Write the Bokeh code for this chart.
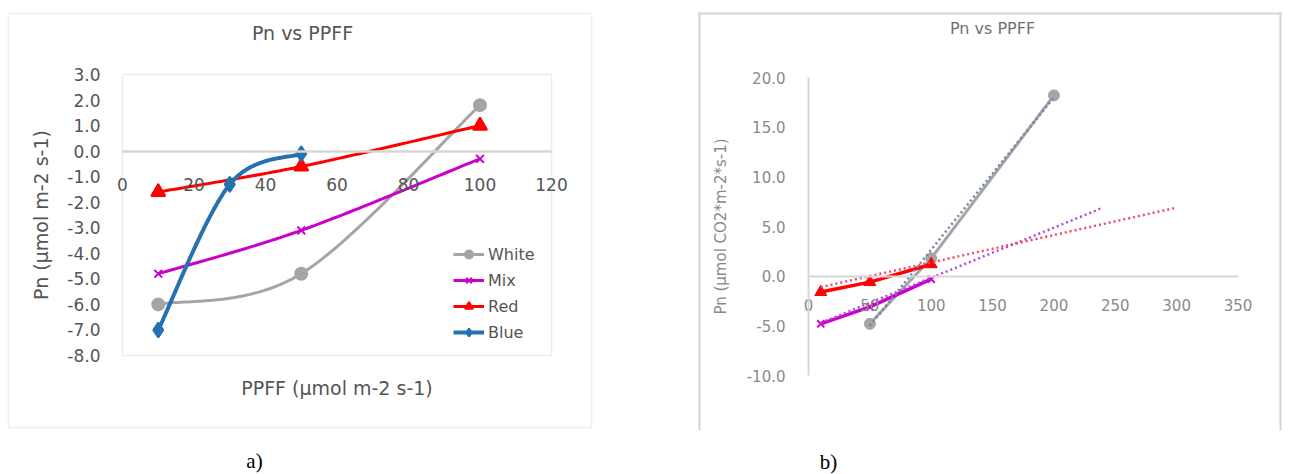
import numpy as np
from bokeh.plotting import figure
from bokeh.layouts import row
from bokeh.models import (Range1d, LinearAxis, FixedTicker, BoxAnnotation, Label,
                          Legend, LegendItem, NumeralTickFormatter)
from bokeh.embed import file_html
from bokeh.resources import INLINE

# ---------------- Panel a) data ----------------
series_names = ["White", "Mix", "Red", "Blue"]
white_x = [10, 50, 100]
white_y = [-6.0, -4.8, 1.8]
mix_x = [10, 50, 100]
mix_y = [-4.8, -3.1, -0.3]
red_x = [10, 50, 100]
red_y = [-1.6, -0.6, 1.0]
blue_x = [10, 30, 50]
blue_y = [-7.0, -1.3, -0.1]

a_x_ticks = [0, 20, 40, 60, 80, 100, 120]
a_y_ticks = [-8, -7, -6, -5, -4, -3, -2, -1, 0, 1, 2, 3]
a_x_lim = (0, 120)
a_y_lim = (-8, 3)

# ---------------- Panel b) data ----------------
b_white_x = [50, 100, 200]
b_white_y = [-4.8, 1.8, 18.2]
b_mix_x = [10, 50, 100]
b_mix_y = [-4.8, -3.1, -0.3]
b_red_x = [10, 50, 100]
b_red_y = [-1.6, -0.6, 1.2]
# dotted trend lines (end points)
b_white_trend_x = [50, 200]
b_white_trend_y = [-5.0, 18.0]
b_mix_trend_x = [10, 240]
b_mix_trend_y = [-4.7, 6.9]
b_red_trend_x = [10, 300]
b_red_trend_y = [-1.1, 6.9]

b_x_ticks = [0, 50, 100, 150, 200, 250, 300, 350]
b_y_ticks = [-10, -5, 0, 5, 10, 15, 20]
b_x_lim = (0, 350)
b_y_lim = (-10, 20)

FONT = "DejaVu Sans"
C_WHITE = "#A5A5A5"
C_MIX = "#CC00CC"
C_RED = "#FF0000"
C_BLUE = "#2672B0"
TXT_A = "#555555"
TXT_B = "#8A8A8A"
W, H = 645, 474


def smooth(xs, ys, n=40):
    """Excel-like smoothed line (Catmull-Rom as cubic Bezier) through the points."""
    P = np.column_stack([xs, ys]).astype(float)
    out = []
    for i in range(len(P) - 1):
        p0 = P[i - 1] if i > 0 else P[i]
        p1 = P[i]
        p2 = P[i + 1]
        p3 = P[i + 2] if i + 2 < len(P) else P[i + 1]
        c1 = p1 + (p2 - p0) / 6.0
        c2 = p2 - (p3 - p1) / 6.0
        t = np.linspace(0, 1, n)[:, None]
        seg = ((1 - t) ** 3) * p1 + 3 * ((1 - t) ** 2) * t * c1 + 3 * (1 - t) * t ** 2 * c2 + t ** 3 * p2
        out.append(seg if i == 0 else seg[1:])
    arr = np.vstack(out)
    return arr[:, 0], arr[:, 1]


def data_ranges(xlim, ylim, left, right, top, bottom):
    """Ranges spanning the whole canvas so that xlim/ylim land on the given pixel box."""
    sx = (right - left) / (xlim[1] - xlim[0])
    sy = (bottom - top) / (ylim[1] - ylim[0])
    xr = Range1d(xlim[0] - left / sx, xlim[1] + (W - right) / sx)
    yr = Range1d(ylim[0] - (H - bottom) / sy, ylim[1] + top / sy)
    return xr, yr


def make_fig(xlim, ylim, box):
    xr, yr = data_ranges(xlim, ylim, *box)
    p = figure(width=W, height=H, x_range=Range1d(0, W), y_range=Range1d(H, 0),
               extra_x_ranges={"d": xr}, extra_y_ranges={"d": yr},
               output_backend="svg", toolbar_location=None,
               x_axis_location=None, y_axis_location=None,
               min_border=0, min_border_left=0, min_border_right=0,
               min_border_top=0, min_border_bottom=0)
    p.grid.grid_line_color = None
    p.outline_line_color = None
    return p


D = dict(x_range_name="d", y_range_name="d")

# ================= Figure a =================
p1 = make_fig(a_x_lim, a_y_lim, (122, 551, 74, 355))

p1.add_layout(BoxAnnotation(left=8, right=591, top=13, bottom=427,
                            fill_alpha=0, line_color="#D4D4D4", line_width=2))
p1.add_layout(BoxAnnotation(left=a_x_lim[0], right=a_x_lim[1], bottom=a_y_lim[0], top=a_y_lim[1],
                            fill_alpha=0, line_color="#C4C4C4", line_width=1.5, **D))

yax = LinearAxis(ticker=FixedTicker(ticks=a_y_ticks), formatter=NumeralTickFormatter(format="0.0"),
                 fixed_location=a_x_lim[0], bounds=a_y_lim, **D)
yax.axis_line_color = None
yax.major_tick_line_color = None
yax.minor_tick_line_color = None
yax.major_label_standoff = 16
yax.major_label_text_font = FONT
yax.major_label_text_font_size = "17px"
yax.major_label_text_color = TXT_A
yax.axis_label = "Pn (µmol m-2 s-1)"
yax.axis_label_text_font = FONT
yax.axis_label_text_font_size = "19px"
yax.axis_label_text_font_style = "normal"
yax.axis_label_text_color = TXT_A
yax.axis_label_standoff = 12
p1.add_layout(yax, "left")

tax = LinearAxis(ticker=FixedTicker(ticks=[]), fixed_location=a_y_lim[0], bounds=a_x_lim, **D)
tax.axis_line_color = None
tax.major_tick_line_color = None
tax.minor_tick_line_color = None
tax.major_label_text_alpha = 0
tax.axis_label = "PPFF (µmol m-2 s-1)"
tax.axis_label_text_font = FONT
tax.axis_label_text_font_size = "19px"
tax.axis_label_text_font_style = "normal"
tax.axis_label_text_color = TXT_A
tax.axis_label_standoff = 21
p1.add_layout(tax, "below")

xax = LinearAxis(ticker=FixedTicker(ticks=a_x_ticks), fixed_location=0, bounds=a_x_lim, **D)
xax.axis_line_color = "#D6D6D6"
xax.axis_line_width = 2.5
xax.major_tick_line_color = None
xax.minor_tick_line_color = None
xax.major_label_standoff = 21
xax.major_label_text_font = FONT
xax.major_label_text_font_size = "17px"
xax.major_label_text_color = TXT_A
p1.add_layout(xax, "below")

items = []
specs = [
    (series_names[0], white_x, white_y, C_WHITE, "circle", 12, 3),
    (series_names[1], mix_x, mix_y, C_MIX, "x", 11, 3),
    (series_names[2], red_x, red_y, C_RED, "triangle", 14, 3),
    (series_names[3], blue_x, blue_y, C_BLUE, "diamond", 15, 4),
]
for name, xs, ys, col, mk, sz, lw in specs:
    sx, sy = smooth(xs, ys)
    lr = p1.line(sx, sy, line_color=col, line_width=lw, **D)
    sr = p1.scatter(xs, ys, marker=mk, size=sz, fill_color=col, line_color=col, line_width=2, **D)
    items.append(LegendItem(label=name, renderers=[lr, sr]))

leg = Legend(items=items, location=(453, 132), orientation="vertical",
             padding=0, margin=0, spacing=6, glyph_height=20, glyph_width=31,
             label_height=20, label_standoff=4, border_line_color=None,
             background_fill_alpha=0, label_text_font=FONT,
             label_text_font_size="16px", label_text_color=TXT_A)
p1.add_layout(leg)

p1.add_layout(Label(x=302, y=32, text="Pn vs PPFF",
                    text_align="center", text_baseline="middle", text_font=FONT,
                    text_font_size="19px", text_color=TXT_A))
p1.add_layout(Label(x=254, y=460, text="a)",
                    text_align="center", text_baseline="middle", text_font="Liberation Serif",
                    text_font_size="21px", text_color="#000000"))

# ================= Figure b =================
G = 645  # page offset of the second figure
p2 = make_fig(b_x_lim, b_y_lim, (808 - G, 1237.5 - G, 77, 375))

for l, r, t, b in [(53, 55, 12, 430), (634, 636, 12, 430), (53, 636, 12, 14)]:
    p2.add_layout(BoxAnnotation(left=l, right=r, top=t, bottom=b,
                                fill_color="#D4D4D4", fill_alpha=1, line_color=None))

yb = LinearAxis(ticker=FixedTicker(ticks=b_y_ticks), formatter=NumeralTickFormatter(format="0.0"),
                fixed_location=b_x_lim[0], bounds=b_y_lim, **D)
yb.axis_line_color = "#D6D6D6"
yb.axis_line_width = 2
yb.major_tick_line_color = None
yb.minor_tick_line_color = None
yb.major_label_standoff = 17
yb.major_label_text_font = FONT
yb.major_label_text_font_size = "15px"
yb.major_label_text_color = TXT_B
yb.axis_label = "Pn (µmol CO2*m-2*s-1)"
yb.axis_label_text_font = FONT
yb.axis_label_text_font_size = "15px"
yb.axis_label_text_font_style = "normal"
yb.axis_label_text_color = TXT_B
yb.axis_label_standoff = 14
p2.add_layout(yb, "left")

xb = LinearAxis(ticker=FixedTicker(ticks=b_x_ticks), fixed_location=0, bounds=b_x_lim, **D)
xb.axis_line_color = "#D6D6D6"
xb.axis_line_width = 2
xb.major_tick_line_color = None
xb.minor_tick_line_color = None
xb.major_label_standoff = 17
xb.major_label_text_font = FONT
xb.major_label_text_font_size = "15px"
xb.major_label_text_color = TXT_B
p2.add_layout(xb, "below")

p2.line(b_white_x, b_white_y, line_color=C_WHITE, line_width=3, **D)
p2.scatter(b_white_x, b_white_y, marker="circle", size=11, fill_color=C_WHITE, line_color=C_WHITE, **D)
p2.line(b_mix_x, b_mix_y, line_color=C_MIX, line_width=3.5, **D)
p2.scatter(b_mix_x, b_mix_y, marker="x", size=10, line_color=C_MIX, line_width=2, **D)
p2.line(b_red_x, b_red_y, line_color=C_RED, line_width=3.5, **D)
p2.scatter(b_red_x, b_red_y, marker="triangle", size=12, fill_color=C_RED, line_color=C_RED, **D)
p2.line(b_white_trend_x, b_white_trend_y, line_color="#6F84AE", line_width=2.5, line_dash="2 3", **D)
p2.line(b_mix_trend_x, b_mix_trend_y, line_color="#B048D8", line_width=2.5, line_dash="2 3", **D)
p2.line(b_red_trend_x, b_red_trend_y, line_color="#F24868", line_width=2.5, line_dash="2 3", **D)

p2.add_layout(Label(x=992 - G, y=28, text="Pn vs PPFF",
                    text_align="center", text_baseline="middle", text_font=FONT,
                    text_font_size="16px", text_color="#707070"))
p2.add_layout(Label(x=828 - G, y=461, text="b)",
                    text_align="center", text_baseline="middle", text_font="Liberation Serif",
                    text_font_size="21px", text_color="#000000"))

layout = row(p1, p2)
open("out.html", "w").write(file_html(layout, INLINE))
